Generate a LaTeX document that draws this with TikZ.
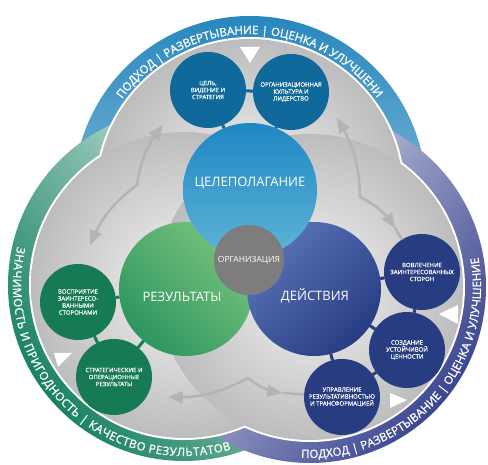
\documentclass[tikz,border=0pt]{standalone}
\usepackage{fontspec}
\setmainfont{Open Sans}
\newfontfamily\rimfont{Open Sans}[FakeBold=1.2]
\newfontfamily\boxfont{Open Sans}[FakeBold=0.8]
\usetikzlibrary{arrows,decorations.text}

\definecolor{rimblue}{RGB}{40,135,190}
\definecolor{rimgreen}{RGB}{25,130,100}
\definecolor{rimnavy}{RGB}{60,70,145}
\definecolor{smallblue}{RGB}{15,105,155}
\definecolor{smallgreen}{RGB}{22,122,84}
\definecolor{smallnavy}{RGB}{40,60,130}
\definecolor{goaltop}{RGB}{30,135,195}
\definecolor{goalbot}{RGB}{95,180,215}
\definecolor{resdark}{RGB}{45,150,95}
\definecolor{reslight}{RGB}{120,195,125}
\definecolor{actdark}{RGB}{40,60,130}
\definecolor{actlight}{RGB}{90,115,185}
\definecolor{orggray}{RGB}{125,125,125}
\definecolor{arrowgray}{RGB}{180,180,184}

\begin{document}
\begin{tikzpicture}[x=1pt,y=1pt,
    bigc/.style={circle,minimum size=134pt,inner sep=0pt,outer sep=0pt},
    bigtext/.style={text=white,font=\fontsize{13}{15}\selectfont},
    smallc/.style={circle,minimum size=76pt,inner sep=0pt,outer sep=0pt,text=white,align=center,font=\boxfont\fontsize{6}{7}\selectfont},
    conn/.style={line width=3pt},
    garrow/.style={draw=arrowgray,line width=2.5pt,-triangle 45},
    rimtext/.style={decorate,decoration={text along path,text align={fit to path},text color=white,text format delimiters={[}{]},text={[\rimfont\fontsize{11.5}{13}\selectfont]#1}}}]
  \useasboundingbox (0,0) rectangle (488,465);
  \fill[white] (0,0) rectangle (488,465);
  \coordinate (toplobe) at (250,273);
  \coordinate (leftlobe) at (184,180);
  \coordinate (rightlobe) at (310,178);

  % rims
  \shade[top color=rimblue,bottom color=white,middle color=rimblue!65!white] (toplobe) circle (176);
  \shade[top color=rimgreen,bottom color=white,middle color=rimgreen!55!white,shading angle=128.5] (leftlobe) circle (176);
  \shade[top color=rimnavy,bottom color=white,middle color=rimnavy!55!white,shading angle=-128.5] (rightlobe) circle (176);
  \foreach \c in {toplobe,leftlobe,rightlobe}
    \fill[white] (\c) circle (155);
  \foreach \c in {toplobe,leftlobe,rightlobe}
    \shade[inner color=black!4,outer color=black!26] (\c) circle (153);

  \path[rimtext={ПОДХОД | РАЗВЕРТЫВАНИЕ | ОЦЕНКА И УЛУЧШЕНИЕ}] ([shift={(144:158)}]toplobe) arc[start angle=144,end angle=36,radius=158];
  \path[rimtext={ЗНАЧИМОСТЬ И ПРИГОДНОСТЬ | КАЧЕСТВО РЕЗУЛЬТАТОВ}] ([shift={(167:171)}]leftlobe) arc[start angle=167,end angle=286,radius=171];
  \path[rimtext={ПОДХОД | РАЗВЕРТЫВАНИЕ | ОЦЕНКА И УЛУЧШЕНИЕ}] ([shift={(267:171)}]rightlobe) arc[start angle=267,end angle=370,radius=171];

  % triangles
  \fill[white] (240,418) -- (260,418) -- (250,402) -- cycle;
  \fill[white] (54,112) -- (72,112) -- (58,98) -- cycle;
  \fill[white] (439,151) -- (458,160) -- (458,141) -- cycle;
  \fill[white] (390,72) -- (390,57) -- (407,65) -- cycle;

  % gray arrows
  \coordinate (kinkl) at (137,280);
  \coordinate (upl) at (163,340);
  \coordinate (downl) at (90,220);
  \coordinate (kinkr) at (360,268);
  \coordinate (upr) at (337,347);
  \coordinate (downr) at (395,237);
  \coordinate (kinkb) at (248,87);
  \coordinate (leftb) at (168,68);
  \coordinate (rightb) at (282,72);
  \draw[garrow] (kinkl) to[bend left=15] (upl);
  \draw[garrow] (kinkl) to[bend right=15] (downl);
  \draw[garrow] (kinkr) to[bend right=15] (upr);
  \draw[garrow] (kinkr) to[bend left=15] (downr);
  \draw[garrow] (kinkb) to[bend left=15] (leftb);
  \draw[garrow] (kinkb) to[bend right=15] (rightb);

  % main circles
  \node[bigc,top color=reslight,bottom color=resdark,shading angle=-45] (results) at (186,176) {};
  \node[bigc,top color=actlight,bottom color=actdark,shading angle=45] (actions) at (314,176) {};
  \node[bigc,top color=goaltop,bottom color=goalbot] (goal) at (250,275) {};
  \node[bigtext] (goaltxt) at (250,282) {ЦЕЛЕПОЛАГАНИЕ};
  \node[bigtext] (restxt) at (182,168) {РЕЗУЛЬТАТЫ};
  \node[bigtext] (acttxt) at (315,169) {ДЕЙСТВИЯ};
  \node[circle,fill=orggray,minimum size=70pt,inner sep=0pt,text=white,font=\fontsize{8.5}{10}\selectfont] (org) at (249,205) {ОРГАНИЗАЦИЯ};

  % small circles
  \node[smallc,fill=smallblue] (vision) at (208,375) {ЦЕЛЬ,\\ВИДЕНИЕ И\\СТРАТЕГИЯ};
  \node[smallc,fill=smallblue] (culture) at (291,373) {ОРГАНИЗАЦИОННАЯ\\КУЛЬТУРА И\\ЛИДЕРСТВО};
  \node[smallc,fill=smallgreen] (percep) at (78,163) {ВОСПРИЯТИЕ\\ЗАИНТЕРЕСО-\\ВАННЫМИ\\СТОРОНАМИ};
  \node[smallc,fill=smallgreen] (strat) at (114,88) {СТРАТЕГИЧЕСКИЕ И\\ОПЕРАЦИОННЫЕ\\РЕЗУЛЬТАТЫ};
  \node[smallc,fill=smallnavy] (engage) at (422,193) {ВОВЛЕЧЕНИЕ\\ЗАИНТЕРЕСОВАННЫХ\\СТОРОН};
  \node[smallc,fill=smallnavy] (value) at (407,115) {СОЗДАНИЕ\\УСТОЙЧИВОЙ\\ЦЕННОСТИ};
  \node[smallc,fill=smallnavy] (perf) at (342,68) {УПРАВЛЕНИЕ\\РЕЗУЛЬТАТИВНОСТЬЮ\\И ТРАНСФОРМАЦИЕЙ};

  \draw[conn,smallblue] (vision) -- (culture);
  \draw[conn,smallblue] (vision) -- (goal);
  \draw[conn,smallblue] (culture) -- (goal);
  \draw[conn,smallgreen] (percep) -- (strat);
  \draw[conn,smallgreen] (percep) -- (results);
  \draw[conn,smallgreen] (strat) -- (results);
  \draw[conn,smallnavy] (engage) -- (value);
  \draw[conn,smallnavy] (value) -- (perf);
  \draw[conn,smallnavy] (engage) -- (actions);
  \draw[conn,smallnavy] (value) -- (actions);
  \draw[conn,smallnavy] (perf) -- (actions);
  \draw[arrowgray,line width=2.5pt] (rightb) -- (perf);
  \draw[arrowgray,line width=2.5pt] (downr) -- (engage);
\end{tikzpicture}
\end{document}
